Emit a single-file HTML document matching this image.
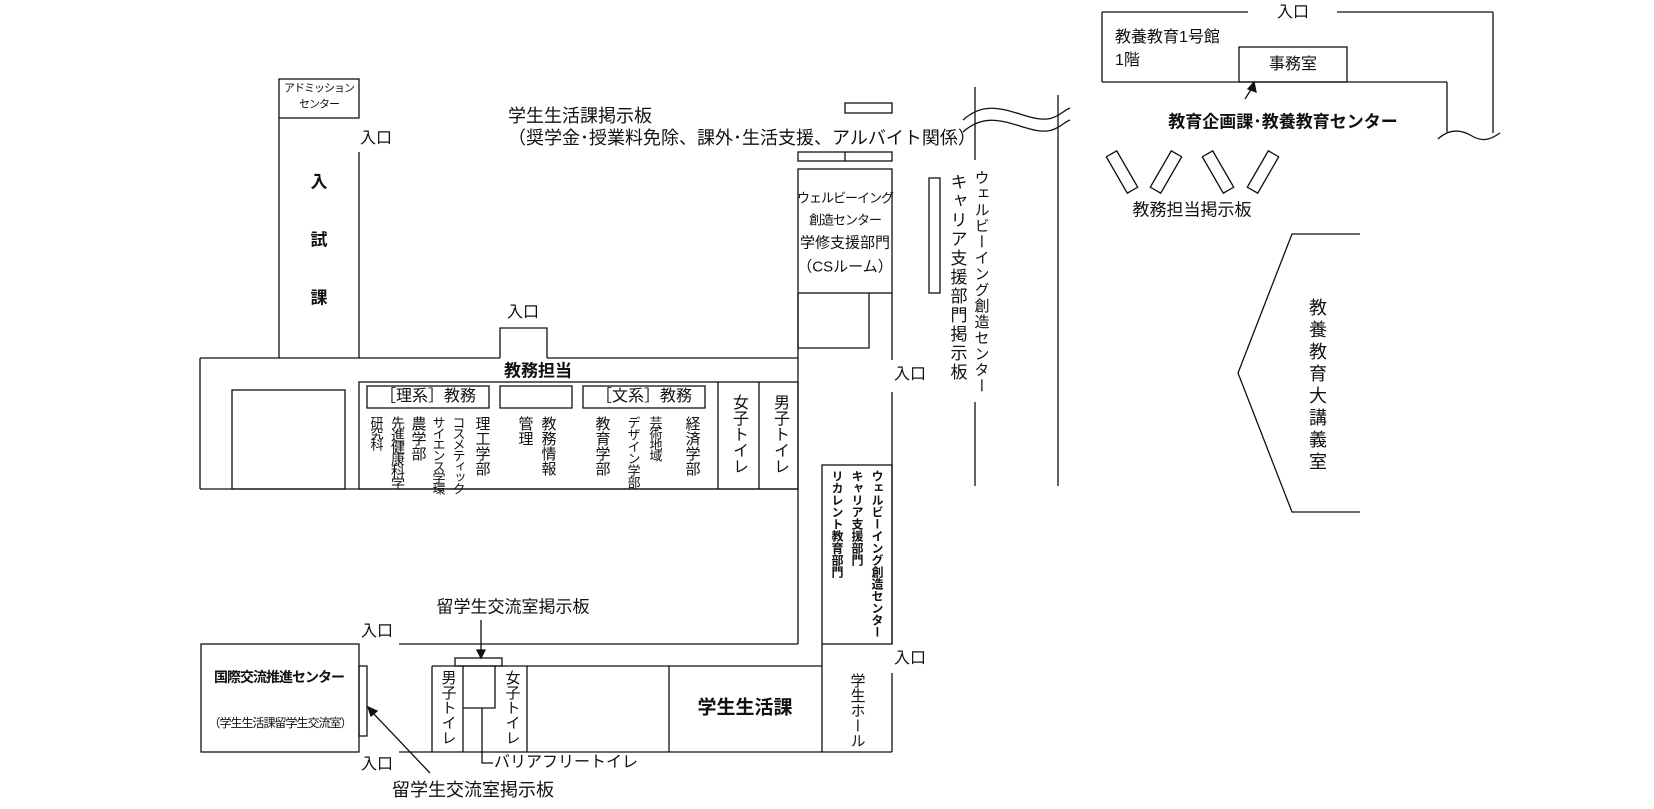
<!DOCTYPE html>
<html><head><meta charset="utf-8"><style>
html,body{margin:0;padding:0;background:#fff;}
#c{position:relative;width:1654px;height:809px;overflow:hidden;font-family:"Liberation Sans","Noto Sans CJK JP",sans-serif;color:#111;}
svg{position:absolute;left:0;top:0;}
.t{position:absolute;transform:translate(-50%,-50%);white-space:nowrap;line-height:1;}
.v{position:absolute;transform:translateX(-50%);writing-mode:vertical-rl;text-orientation:upright;white-space:nowrap;line-height:1;}
.b{font-weight:bold;}
</style></head><body><div id="c">
<svg width="1654" height="809" viewBox="0 0 1654 809" fill="none" stroke="#111" stroke-width="1.3">
<!-- admission -->
<rect x="279" y="79" width="80" height="39"/>
<line x1="279" y1="118" x2="279" y2="358"/>
<line x1="359" y1="152" x2="359" y2="358"/>
<!-- main box -->
<line x1="200" y1="358" x2="500" y2="358"/>
<polyline points="500,358 500,328 547,328 547,358"/>
<line x1="547" y1="358" x2="798" y2="358"/>
<line x1="200" y1="358" x2="200" y2="489"/>
<line x1="200" y1="489" x2="798" y2="489"/>
<rect x="232" y="390" width="113" height="99"/>
<rect x="359" y="382" width="439" height="107"/>
<line x1="718" y1="382" x2="718" y2="489"/>
<line x1="759" y1="382" x2="759" y2="489"/>
<rect x="367" y="386" width="122" height="22"/>
<rect x="500" y="386" width="72" height="22"/>
<rect x="583" y="386" width="122" height="22"/>
<!-- CS room column -->
<rect x="845" y="103" width="47" height="10"/>
<rect x="798" y="152" width="94" height="9"/>
<line x1="845" y1="152" x2="845" y2="161"/>
<rect x="798" y="169" width="94" height="124"/>
<line x1="798" y1="293" x2="798" y2="644"/>
<polyline points="798,293 798,348 869,348 869,293"/>
<line x1="892" y1="293" x2="892" y2="360"/>
<line x1="892" y1="392" x2="892" y2="644"/>
<rect x="929" y="178" width="11" height="115"/>
<!-- lower -->
<line x1="399" y1="644" x2="798" y2="644"/>
<rect x="822" y="465" width="70" height="179"/>
<line x1="822" y1="644" x2="822" y2="752"/>
<line x1="892" y1="673" x2="892" y2="752"/>
<line x1="399" y1="752" x2="892" y2="752"/>
<line x1="432" y1="666" x2="822" y2="666"/>
<line x1="432" y1="666" x2="432" y2="752"/>
<line x1="463" y1="666" x2="463" y2="752"/>
<line x1="527" y1="666" x2="527" y2="752"/>
<line x1="669" y1="666" x2="669" y2="752"/>
<polyline points="463,708 495,708 495,666"/>
<rect x="455" y="658" width="47" height="8"/>
<rect x="201" y="644" width="158" height="108"/>
<rect x="359" y="666" width="8" height="70"/>
<!-- arrows / leaders -->
<line x1="481" y1="620" x2="481" y2="652"/>
<polygon points="477,650 485,650 481,658" fill="#111"/>
<polyline points="482,708 482,763 493,763"/>
<line x1="430" y1="773" x2="372" y2="712"/>
<polygon points="368,707 377,711 371,716" fill="#111"/>
<!-- right verticals -->
<line x1="975" y1="87" x2="975" y2="160"/>
<line x1="975" y1="402" x2="975" y2="486"/>
<line x1="1058" y1="95" x2="1058" y2="486"/>
<path d="M963,120 C985,100 1005,110 1030,117 S1060,112 1070,108"/>
<path d="M963,132 C985,112 1005,122 1030,129 S1060,124 1070,120"/>
<!-- 1号館 -->
<line x1="1102" y1="12" x2="1248" y2="12"/>
<line x1="1337" y1="12" x2="1493" y2="12"/>
<line x1="1102" y1="12" x2="1102" y2="82"/>
<line x1="1102" y1="82" x2="1447" y2="82"/>
<rect x="1239" y="47" width="108" height="35"/>
<line x1="1447" y1="82" x2="1447" y2="132"/>
<line x1="1493" y1="12" x2="1493" y2="133"/>
<path d="M1438,139 C1450,128 1462,130 1472,136 S1490,140 1500,133"/>
<line x1="1245" y1="99" x2="1252" y2="88"/>
<polygon points="1254,82 1256,92 1248,89" fill="#111"/>
<!-- bulletin boards -->
<rect x="-6" y="-21" width="12" height="42" transform="translate(1122,172) rotate(-30)"/>
<rect x="-6" y="-21" width="12" height="42" transform="translate(1166,172) rotate(30)"/>
<rect x="-6" y="-21" width="12" height="42" transform="translate(1218,172) rotate(-30)"/>
<rect x="-6" y="-21" width="12" height="42" transform="translate(1263,172) rotate(30)"/>
<!-- lecture hall -->
<polyline points="1360,234 1292,234 1238,373 1292,512 1360,512"/>
</svg>

<!-- texts -->
<div class="t" style="left:319px;top:89px;font-size:11px;letter-spacing:-1px">アドミッション</div>
<div class="t" style="left:319px;top:105px;font-size:11px;letter-spacing:-1px">センター</div>
<div class="t" style="left:376px;top:139px;font-size:16px">入口</div>
<div class="t b" style="left:319px;top:182px;font-size:17px">入</div>
<div class="t b" style="left:319px;top:240px;font-size:17px">試</div>
<div class="t b" style="left:319px;top:298px;font-size:17px">課</div>
<div style="position:absolute;left:508px;top:105px;font-size:18px;line-height:22px;white-space:nowrap">学生生活課掲示板<br>（奨学金･授業料免除、課外･生活支援、アルバイト関係）</div>
<div class="t" style="left:523px;top:313px;font-size:16px">入口</div>
<div class="t b" style="left:538px;top:371px;font-size:17px">教務担当</div>
<div class="t" style="left:428px;top:397px;font-size:16px">［理系］教務</div>
<div class="t" style="left:644px;top:397px;font-size:16px">［文系］教務</div>

<div class="v" style="left:482px;top:416px;font-size:15px">理工学部</div>
<div class="v" style="left:458px;top:416px;font-size:13px;letter-spacing:-2px">コスメティック</div>
<div class="v" style="left:438px;top:416px;font-size:13px;letter-spacing:-2px">サイエンス学環</div>
<div class="v" style="left:418px;top:416px;font-size:15px">農学部</div>
<div class="v" style="left:398px;top:416px;font-size:14px;letter-spacing:-2px">先進健康科学</div>
<div class="v" style="left:376px;top:416px;font-size:13px;letter-spacing:-2px">研究科</div>
<div class="v" style="left:548px;top:416px;font-size:15px">教務情報</div>
<div class="v" style="left:525px;top:416px;font-size:15px">管理</div>
<div class="v" style="left:692px;top:416px;font-size:15px">経済学部</div>
<div class="v" style="left:655px;top:416px;font-size:13px;letter-spacing:-2px">芸術地域</div>
<div class="v" style="left:633px;top:416px;font-size:13px;letter-spacing:-1px">デザイン学部</div>
<div class="v" style="left:602px;top:416px;font-size:15px">教育学部</div>
<div class="v" style="left:738px;top:394px;font-size:16px">女子トイレ</div>
<div class="v" style="left:779px;top:394px;font-size:16px">男子トイレ</div>

<div class="t" style="left:845px;top:198px;font-size:13px;letter-spacing:-1px">ウェルビーイング</div>
<div class="t" style="left:845px;top:220px;font-size:13px;letter-spacing:-1px">創造センター</div>
<div class="t" style="left:845px;top:243px;font-size:15px">学修支援部門</div>
<div class="t" style="left:845px;top:267px;font-size:15px">（CSルーム）</div>
<div class="v" style="left:957px;top:173px;font-size:17px;letter-spacing:2px">キャリア支援部門掲示板</div>
<div class="v" style="left:981px;top:170px;font-size:15px;letter-spacing:1px">ウェルビーイング創造センター</div>
<div class="t" style="left:910px;top:375px;font-size:16px">入口</div>

<div class="v b" style="left:877px;top:470px;font-size:12px">ウェルビーイング創造センター</div>
<div class="v b" style="left:857px;top:470px;font-size:12px">キャリア支援部門</div>
<div class="v b" style="left:837px;top:470px;font-size:12px">リカレント教育部門</div>
<div class="t" style="left:910px;top:659px;font-size:16px">入口</div>
<div class="v" style="left:857px;top:673px;font-size:15px">学生ホール</div>

<div class="t" style="left:513px;top:607px;font-size:17px">留学生交流室掲示板</div>
<div class="t" style="left:377px;top:632px;font-size:16px">入口</div>
<div class="t b" style="left:279px;top:677px;font-size:14px;letter-spacing:-1px">国際交流推進センター</div>
<div class="t" style="left:280px;top:723px;font-size:12px;letter-spacing:-1px">（学生生活課留学生交流室）</div>
<div class="v" style="left:448px;top:670px;font-size:15px">男子トイレ</div>
<div class="v" style="left:512px;top:670px;font-size:15px">女子トイレ</div>
<div class="t b" style="left:745px;top:708px;font-size:19px">学生生活課</div>
<div class="t" style="left:377px;top:765px;font-size:16px">入口</div>
<div style="position:absolute;left:494px;top:755px;font-size:16px;line-height:1;white-space:nowrap">バリアフリートイレ</div>
<div class="t" style="left:473px;top:790px;font-size:18px">留学生交流室掲示板</div>

<div class="t" style="left:1293px;top:13px;font-size:16px">入口</div>
<div style="position:absolute;left:1115px;top:26px;font-size:16px;line-height:23px;white-space:nowrap">教養教育1号館<br>1階</div>
<div class="t" style="left:1293px;top:65px;font-size:16px">事務室</div>
<div class="t b" style="left:1283px;top:122px;font-size:17px">教育企画課･教養教育センター</div>
<div class="t" style="left:1192px;top:210px;font-size:17px">教務担当掲示板</div>
<div class="v" style="left:1317px;top:298px;font-size:18px;letter-spacing:4px">教養教育大講義室</div>
</div></body></html>
